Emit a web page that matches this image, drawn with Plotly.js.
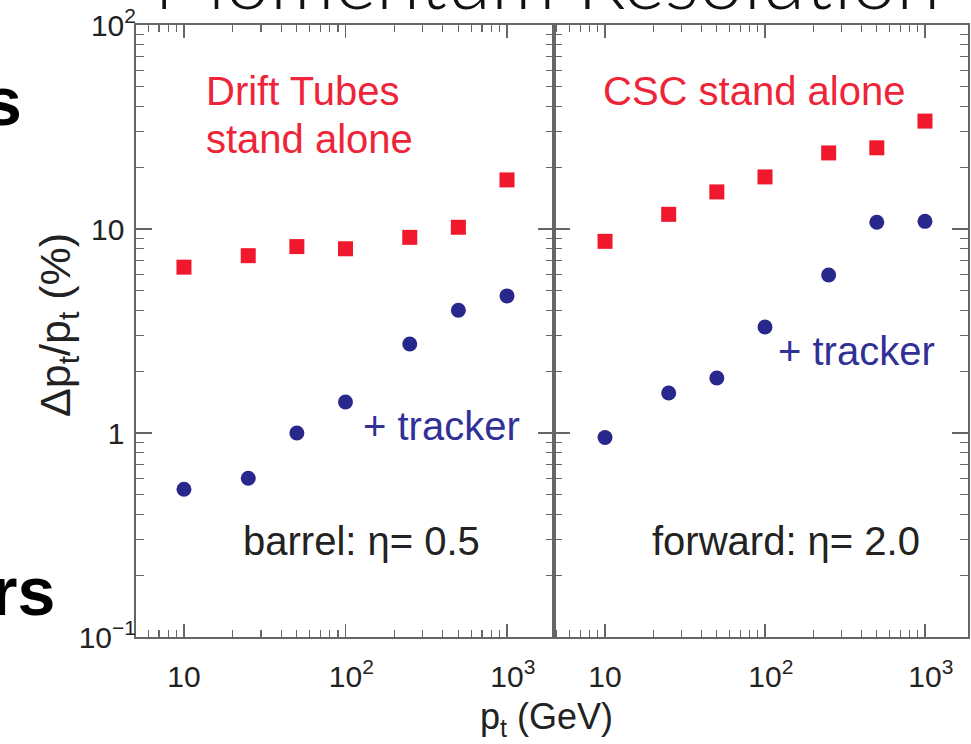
<!DOCTYPE html>
<html>
<head>
<meta charset="utf-8">
<script src="https://cdn.plot.ly/plotly-3.0.1.min.js"></script>
<style>
  html, body { margin: 0; padding: 0; background: #fff; }
  #chart { width: 971px; height: 744px; }
</style>
</head>
<body>
<div id="chart"></div>
<script>
// ---- data ----
const pt = [10, 25, 50, 100, 250, 500, 1000];               // GeV
const barrelStandAlone = [6.5, 7.4, 8.2, 8.0, 9.1, 10.2, 17.4];   // %
const barrelTracker    = [0.53, 0.60, 1.0, 1.42, 2.73, 4.0, 4.7];
const forwardStandAlone = [8.7, 11.8, 15.2, 18.0, 23.6, 25.0, 33.8];
const forwardTracker    = [0.95, 1.57, 1.86, 3.31, 5.95, 10.8, 10.9];

const xTickVals = [10, 100, 1000];
const xTickText = ['10', '<sup>\u00a0\u00a0</sup>10<sup>2</sup>', '<sup>\u00a0\u00a0</sup>10<sup>3</sup>'];
const xMinorVals = [5, 6, 7, 8, 9, 20, 30, 40, 50, 60, 70, 80, 90, 200, 300, 400, 500, 600, 700, 800, 900, 2000];
const yTickVals = [0.1, 1, 10, 100];
const yTickText = ['10<sup>\u22121</sup>', '1<sup>\u00a0\u00a0</sup>', '10<sup>\u00a0\u00a0</sup>', '10<sup>2</sup>'];
const yMinorVals = [0.2, 0.3, 0.4, 0.5, 0.6, 0.7, 0.8, 0.9, 2, 3, 4, 5, 6, 7, 8, 9, 20, 30, 40, 50, 60, 70, 80, 90];

// ---- styles ----
const RED = 'rgb(240,24,44)';
const BLUE = 'rgb(40,40,140)';
const TXT_RED = 'rgb(238,36,56)';
const TXT_BLUE = 'rgb(48,48,150)';
const FRAME = '#666';
const FONT = 'Liberation Sans, Arial, Helvetica, sans-serif';

function sqTrace(x, y, xa, ya) {
  return { x: x, y: y, xaxis: xa, yaxis: ya, type: 'scatter', mode: 'markers',
    marker: { symbol: 'square', size: 15, color: RED }, showlegend: false, hoverinfo: 'x+y' };
}
function dotTrace(x, y, xa, ya) {
  return { x: x, y: y, xaxis: xa, yaxis: ya, type: 'scatter', mode: 'markers',
    marker: { symbol: 'circle', size: 15, color: BLUE }, showlegend: false, hoverinfo: 'x+y' };
}

const data = [
  sqTrace(pt, barrelStandAlone, 'x', 'y'),
  dotTrace(pt, barrelTracker, 'x', 'y'),
  sqTrace(pt, forwardStandAlone, 'x2', 'y2'),
  dotTrace(pt, forwardTracker, 'x2', 'y2')
];

function xAxis(domain, range, anchor) {
  return {
    type: 'log', domain: domain, range: range, anchor: anchor,
    showline: true, linecolor: FRAME, linewidth: 2, mirror: 'allticks',
    showgrid: false, zeroline: false,
    ticks: 'inside', ticklen: 13, tickwidth: 1.5, tickcolor: FRAME,
    tickmode: 'array', tickvals: xTickVals, ticktext: xTickText,
    ticklabelstandoff: 12,
    tickfont: { family: FONT, size: 30, color: '#222' },
    minor: { tickmode: 'array', tickvals: xMinorVals, ticks: 'inside', ticklen: 7, tickwidth: 1.2, tickcolor: FRAME, showgrid: false }
  };
}
function yAxis(anchor, showLabels) {
  return {
    type: 'log', domain: [0, 1], range: [-1, 2], anchor: anchor,
    showline: true, linecolor: FRAME, linewidth: 2, mirror: 'allticks',
    showgrid: false, zeroline: false,
    ticks: 'inside', ticklen: 16, tickwidth: 1.5, tickcolor: FRAME,
    tickmode: 'array', tickvals: yTickVals, ticktext: yTickText,
    showticklabels: showLabels, ticklabelstandoff: -8,
    tickfont: { family: FONT, size: 30, color: '#222' },
    minor: { tickmode: 'array', tickvals: yMinorVals, ticks: 'inside', ticklen: 8, tickwidth: 1.2, tickcolor: FRAME, showgrid: false }
  };
}

// pixel helpers for annotation placement in paper coordinates
const L = 136, R = 3, T = 25, B = 107, W = 971, H = 744;
const pw = W - L - R, ph = H - T - B;
const px = v => (v - L) / pw;
const py = v => (H - B - v) / ph;

function note(text, x, y, color, size, xanchor, extra) {
  return Object.assign({ text: text, xref: 'paper', yref: 'paper', x: px(x), y: py(y),
    xanchor: xanchor || 'left', yanchor: 'middle', showarrow: false,
    font: { family: FONT, size: size || 40, color: color } }, extra || {});
}

const annotations = [
  note('Drift Tubes', 204, 91, TXT_RED),
  note('stand alone', 204, 139, TXT_RED),
  note('CSC stand alone', 601, 91, TXT_RED),
  note('+ tracker', 361, 426, TXT_BLUE),
  note('+ tracker', 776, 351, TXT_BLUE),
  note('barrel: \u03b7= 0.5', 241, 541, '#222'),
  note('forward: \u03b7= 2.0', 650, 541, '#222'),
  // axis titles
  note('p<sub>t</sub> (GeV)', 546, 719, '#222', 36, 'center'),
  note('\u0394p<sub>t</sub>/p<sub>t</sub> (%)', 58, 325, '#222', 43, 'center', { textangle: -90 }),
  // slide title (cut off at the top)
  Object.assign(note('Momentum Resolution', 547, -22, '#111', 80, 'center'),
    { font: { family: 'Lato, Open Sans, sans-serif', size: 80, color: '#111', weight: 300 } }),
  // fragments of slide text cut at the left edge
  Object.assign(note('s', 24, 101, '#000', 68, 'right'),
    { font: { family: FONT, size: 68, color: '#000', weight: 'bold' } }),
  Object.assign(note('rs', 57, 591, '#000', 68, 'right'),
    { font: { family: FONT, size: 68, color: '#000', weight: 'bold' } })
];

const split = (554 - L) / pw;
const layout = {
  width: W, height: H,
  margin: { l: L, r: R, t: T, b: B, pad: 0 },
  paper_bgcolor: '#fff', plot_bgcolor: '#fff',
  showlegend: false,
  xaxis: xAxis([0, split], [0.703, 3.291], 'y'),
  yaxis: yAxis('x', true),
  xaxis2: xAxis([split, 1], [0.681, 3.269], 'y2'),
  yaxis2: yAxis('x2', false),
  annotations: annotations
};

Plotly.newPlot('chart', data, layout, { displayModeBar: false, staticPlot: true });
</script>
</body>
</html>
